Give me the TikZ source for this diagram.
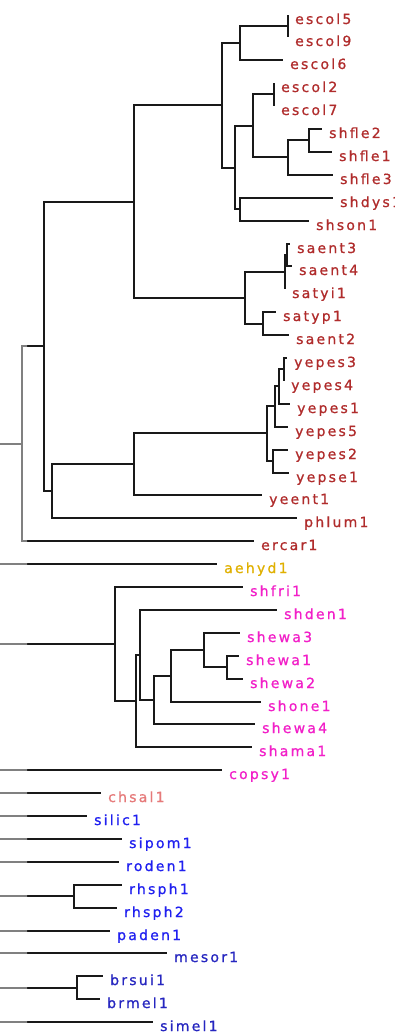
\documentclass[tikz,border=0pt]{standalone}
\usepackage{fontspec}
\newfontfamily\lblfont[LetterSpace=16,FakeBold=0.9]{DejaVu Sans}
\definecolor{entero}{HTML}{B02C2C}
\definecolor{aero}{HTML}{E0B000}
\definecolor{shew}{HTML}{F21FC8}
\definecolor{chro}{HTML}{E67A7A}
\definecolor{bluea}{HTML}{2020F0}
\definecolor{blueb}{HTML}{2626C0}
\tikzset{
  lbl/.style={anchor=base west, inner sep=0pt, xshift=7pt, yshift=-9pt,
    font=\lblfont\fontsize{14}{14}\selectfont},
}
% all branches of the tree, as elbow connectors from parent to child
\newcommand\treeedges{%
  % root level (root lies left of the page)
  \foreach \c in {nA,aehyd1,nU,copsy1,chsal1,silic1,sipom1,roden1,nRh,paden1,mesor1,nBr,simel1}
    \draw[edge] (root) |- (\c);
  % enterobacteria
  \draw[edge] (nA) |- (nB);   \draw[edge] (nA) |- (ercar1);
  \draw[edge] (nB) |- (nC);   \draw[edge] (nB) |- (nN);
  \draw[edge] (nC) |- (nD);   \draw[edge] (nC) |- (nK);
  \draw[edge] (nD) |- (nE);   \draw[edge] (nD) |- (nF);
  \draw[edge] (nE) |- (nE5);  \draw[edge] (nE) |- (escol6);
  \draw[edge] (nE5) |- (escol5); \draw[edge] (nE5) |- (escol9);
  \draw[edge] (nF) |- (nG);   \draw[edge] (nF) |- (nJ);
  \draw[edge] (nG) |- (nG2);  \draw[edge] (nG) |- (nH);
  \draw[edge] (nG2) |- (escol2); \draw[edge] (nG2) |- (escol7);
  \draw[edge] (nH) |- (nI);   \draw[edge] (nH) |- (shfle3);
  \draw[edge] (nI) |- (shfle2); \draw[edge] (nI) |- (shfle1);
  \draw[edge] (nJ) |- (shdys1); \draw[edge] (nJ) |- (shson1);
  \draw[edge] (nK) |- (nL);   \draw[edge] (nK) |- (nM);
  \draw[edge] (nL) |- (nL2);  \draw[edge] (nL) |- (satyi1);
  \draw[edge] (nL2) |- (saent3); \draw[edge] (nL2) |- (saent4);
  \draw[edge] (nM) |- (satyp1); \draw[edge] (nM) |- (saent2);
  \draw[edge] (nN) |- (nO);   \draw[edge] (nN) |- (phlum1);
  \draw[edge] (nO) |- (nP);   \draw[edge] (nO) |- (yeent1);
  \draw[edge] (nP) |- (nQ);   \draw[edge] (nP) |- (nT);
  \draw[edge] (nQ) |- (nR);   \draw[edge] (nQ) |- (yepes5);
  \draw[edge] (nR) |- (nS);   \draw[edge] (nR) |- (yepes1);
  \draw[edge] (nS) |- (yepes3); \draw[edge] (nS) |- (yepes4);
  \draw[edge] (nT) |- (yepes2); \draw[edge] (nT) |- (yepse1);
  % shewanella
  \draw[edge] (nU) |- (shfri1); \draw[edge] (nU) |- (nV);
  \draw[edge] (nV) |- (nW);   \draw[edge] (nV) |- (shama1);
  \draw[edge] (nW) |- (shden1); \draw[edge] (nW) |- (nX);
  \draw[edge] (nX) |- (nY);   \draw[edge] (nX) |- (shewa4);
  \draw[edge] (nY) |- (nZ);   \draw[edge] (nY) |- (shone1);
  \draw[edge] (nZ) |- (shewa3); \draw[edge] (nZ) |- (nAA);
  \draw[edge] (nAA) |- (shewa1); \draw[edge] (nAA) |- (shewa2);
  % rhizobia
  \draw[edge] (nRh) |- (rhsph1); \draw[edge] (nRh) |- (rhsph2);
  \draw[edge] (nBr) |- (brsui1); \draw[edge] (nBr) |- (brmel1);
}
\begin{document}
\begin{tikzpicture}[x=1pt,y=-1pt]
\clip (0,0) rectangle (395,1035);
\fill[white] (0,0) rectangle (395,1035);

% leaves (branch tips)
\coordinate (escol5) at (288,15);
\coordinate (escol9) at (288,37);
\coordinate (escol6) at (283,60);
\coordinate (escol2) at (274,83);
\coordinate (escol7) at (274,106);
\coordinate (shfle2) at (322,129);
\coordinate (shfle1) at (332,152);
\coordinate (shfle3) at (333,175);
\coordinate (shdys1) at (333,198);
\coordinate (shson1) at (309,221);
\coordinate (saent3) at (290,244);
\coordinate (saent4) at (292,266);
\coordinate (satyi1) at (285,289);
\coordinate (satyp1) at (276,312);
\coordinate (saent2) at (289,335);
\coordinate (yepes3) at (287,358);
\coordinate (yepes4) at (284,381);
\coordinate (yepes1) at (290,404);
\coordinate (yepes5) at (288,427);
\coordinate (yepes2) at (288,450);
\coordinate (yepse1) at (289,473);
\coordinate (yeent1) at (262,495);
\coordinate (phlum1) at (297,518);
\coordinate (ercar1) at (254,541);
\coordinate (aehyd1) at (217,564);
\coordinate (shfri1) at (243,587);
\coordinate (shden1) at (277,610);
\coordinate (shewa3) at (240,633);
\coordinate (shewa1) at (239,656);
\coordinate (shewa2) at (243,679);
\coordinate (shone1) at (261,702);
\coordinate (shewa4) at (255,724);
\coordinate (shama1) at (252,747);
\coordinate (copsy1) at (222,770);
\coordinate (chsal1) at (101,793);
\coordinate (silic1) at (87,816);
\coordinate (sipom1) at (122,839);
\coordinate (roden1) at (119,862);
\coordinate (rhsph1) at (122,885);
\coordinate (rhsph2) at (117,908);
\coordinate (paden1) at (110,931);
\coordinate (mesor1) at (167,953);
\coordinate (brsui1) at (103,976);
\coordinate (brmel1) at (100,999);
\coordinate (simel1) at (153,1022);

% internal nodes
\coordinate (nE5) at (288,26);
\coordinate (nE)  at (240,43);
\coordinate (nG2) at (274,94);
\coordinate (nI)  at (309,140);
\coordinate (nH)  at (288,157);
\coordinate (nG)  at (253,126);
\coordinate (nJ)  at (240,209);
\coordinate (nF)  at (235,168);
\coordinate (nD)  at (222,105);
\coordinate (nL2) at (287,255);
\coordinate (nL)  at (285,272);
\coordinate (nM)  at (263,324);
\coordinate (nK)  at (245,298);
\coordinate (nC)  at (134,202);
\coordinate (nS)  at (284,369);
\coordinate (nR)  at (279,386);
\coordinate (nQ)  at (275,406);
\coordinate (nT)  at (273,461);
\coordinate (nP)  at (267,433);
\coordinate (nO)  at (134,464);
\coordinate (nN)  at (52,491);
\coordinate (nB)  at (44,346);
\coordinate (nA)  at (22,444);
\coordinate (nAA) at (227,667);
\coordinate (nZ)  at (204,650);
\coordinate (nY)  at (171,676);
\coordinate (nX)  at (154,700);
\coordinate (nW)  at (140,655);
\coordinate (nV)  at (136,701);
\coordinate (nU)  at (115,644);
\coordinate (nRh) at (74,896);
\coordinate (nBr) at (77,988);
\coordinate (root) at (-12,700);

% branches: black to the right, grey near the root
\begin{scope}
  \clip (27,0) rectangle (395,1035);
  \tikzset{edge/.style={black!90, line width=2pt}}
  \treeedges
\end{scope}
\begin{scope}
  \clip (0,0) rectangle (27,1035);
  \tikzset{edge/.style={black!50, line width=2pt}}
  \treeedges
\end{scope}

% tip labels
\foreach \t in {escol5,escol9,escol6,escol2,escol7,shfle2,shfle1,shfle3,shdys1,shson1,
  saent3,saent4,satyi1,satyp1,saent2,yepes3,yepes4,yepes1,yepes5,yepes2,yepse1,
  yeent1,phlum1,ercar1}
  \node[lbl, text=entero] (t-\t) at (\t) {\t};
\node[lbl, text=aero] (t-aehyd1) at (aehyd1) {aehyd1};
\foreach \t in {shfri1,shden1,shewa3,shewa1,shewa2,shone1,shewa4,shama1,copsy1}
  \node[lbl, text=shew] (t-\t) at (\t) {\t};
\node[lbl, text=chro] (t-chsal1) at (chsal1) {chsal1};
\foreach \t in {silic1,sipom1,roden1,rhsph1,rhsph2,paden1}
  \node[lbl, text=bluea] (t-\t) at (\t) {\t};
\foreach \t in {mesor1,brsui1,brmel1,simel1}
  \node[lbl, text=blueb] (t-\t) at (\t) {\t};
\end{tikzpicture}
\end{document}
